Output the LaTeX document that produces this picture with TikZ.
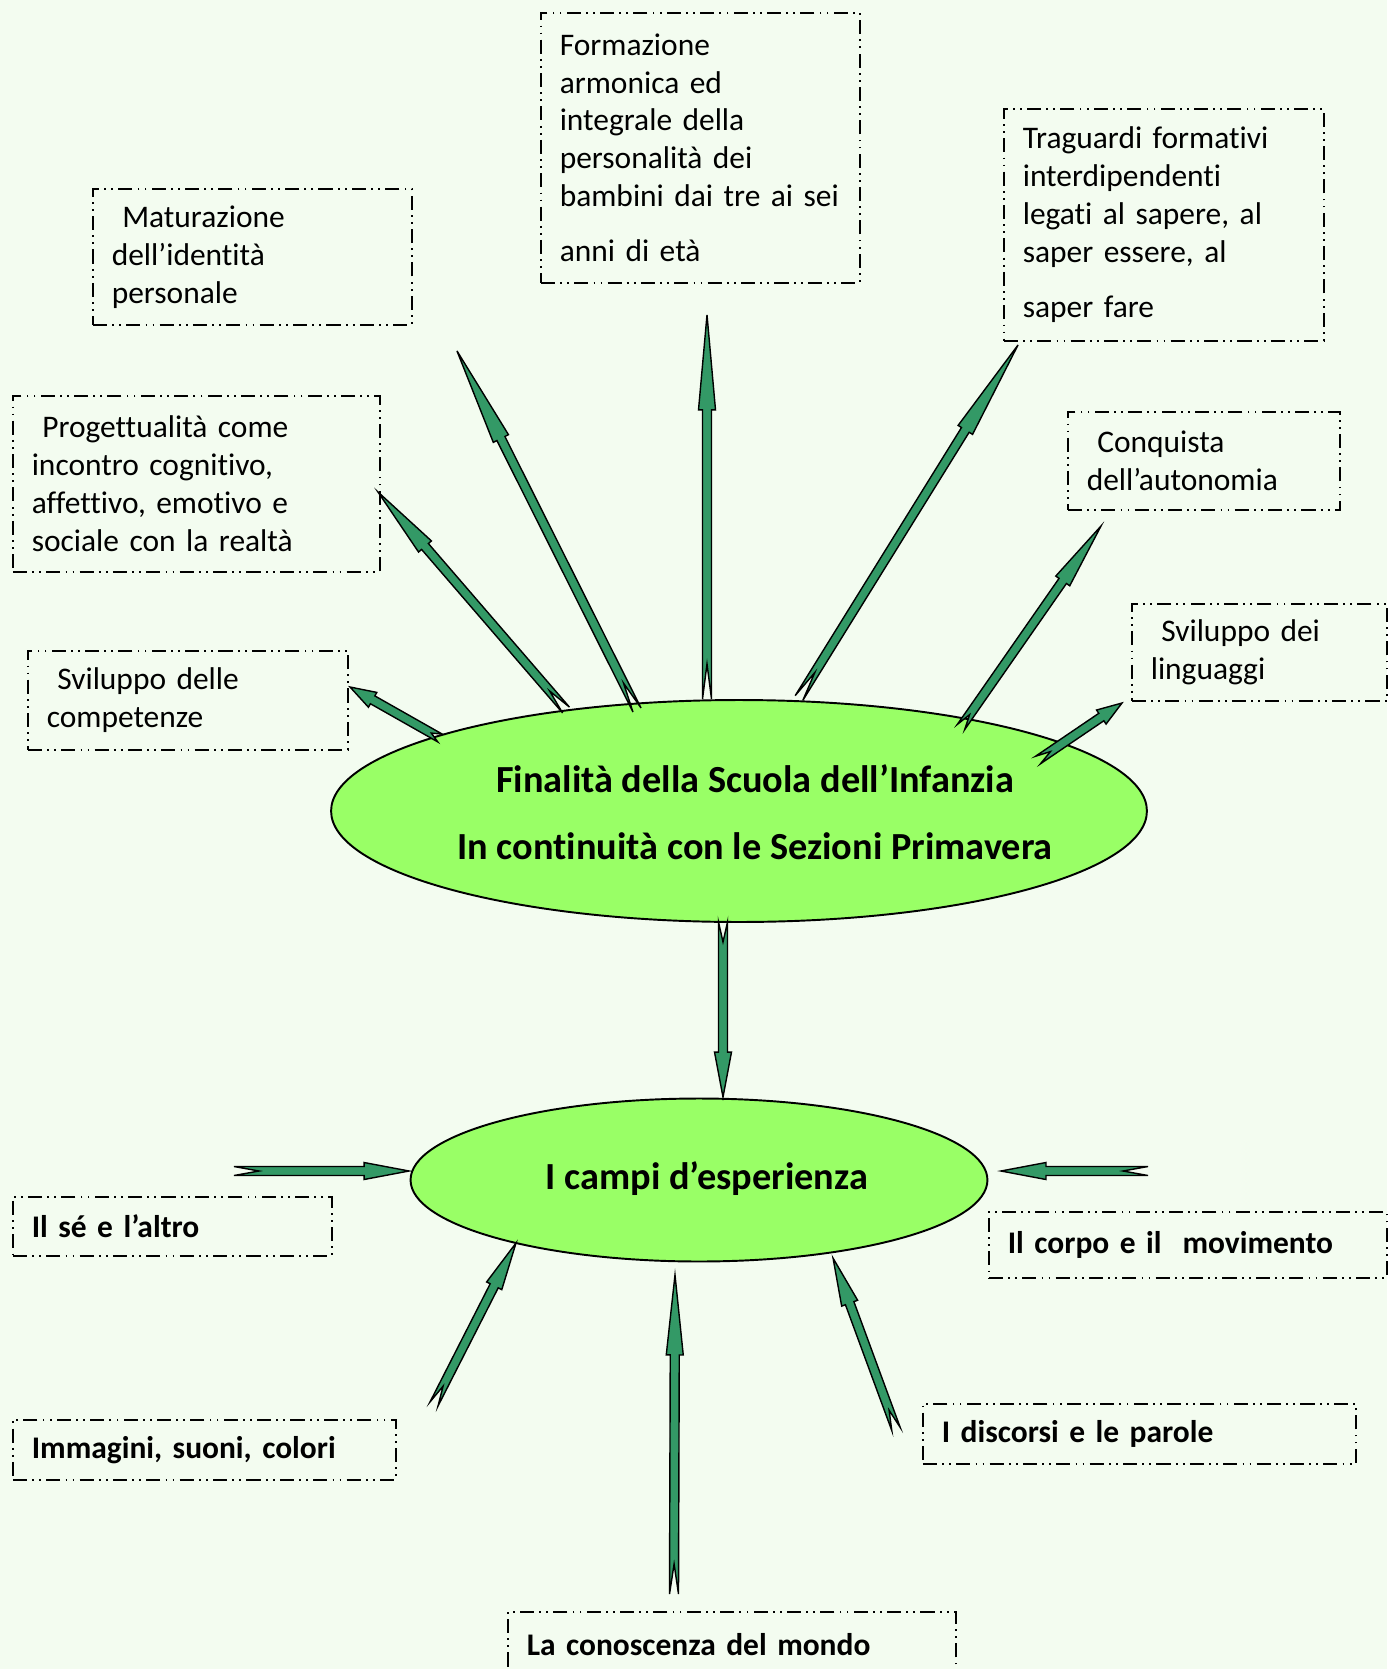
\documentclass[tikz,border=0pt]{standalone}
\usepackage{fontspec}
\setmainfont{Carlito}[Ligatures={TeX,NoCommon}]
\usepackage{tikz}
\usetikzlibrary{calc,shapes.geometric}
\definecolor{bgmint}{HTML}{F3FCF0}
\definecolor{goalgreen}{HTML}{99FF66}
\definecolor{arrowgreen}{HTML}{339966}
\newcommand\boxfont{\fontsize{17.9}{21.6}\selectfont}
\newcommand\goalfont{\fontsize{21.8}{38}\selectfont\bfseries}
\tikzset{
  goalbox/.style n args={3}{draw, dash pattern=on 8pt off 3pt on 1pt off 3pt on 1pt off 3pt,
    line width=0.9pt, anchor=north west, align=left, inner xsep=0.38cm, inner ysep=0pt,
    font=\boxfont, minimum width=#1cm, minimum height=#2cm, text width=#3cm},
  campo/.style={font=\boxfont\bfseries},
  goal/.style={ellipse, draw, fill=goalgreen, line width=1.1pt, inner sep=0pt},
  notched/.style={draw, fill=arrowgreen, line width=0.8pt, line join=miter}
}
% notched block arrow: tail, tip, head length, notch depth (lengths in px)
\newcommand\notcharrow[4]{%
  \path let \p1=(#1), \p2=(#2) in
    \pgfextra{\pgfmathsetmacro\arrang{atan2(\y2-\y1,\x2-\x1)}%
      \pgfmathsetmacro\arrlen{veclen(\x2-\x1,\y2-\y1)/0.569055}%
      \xdef\arrang{\arrang}\xdef\arrlen{\arrlen}};
  \begin{scope}[shift={(#1)}, rotate=\arrang]
    \draw[notched] (0,4.5) -- (\arrlen-#3,4.5) -- (\arrlen-#3,8.5) -- (\arrlen,0)
      -- (\arrlen-#3,-8.5) -- (\arrlen-#3,-4.5) -- (0,-4.5) -- (#4,0) -- cycle;
  \end{scope}}

\begin{document}
\begin{tikzpicture}[x=0.02cm, y=-0.02cm]
  \useasboundingbox (0,0) rectangle (1387,1669);
  \fill[bgmint] (0,0) rectangle (1387,1669);

  % the two ellipses
  \node[goal, minimum width=16.32cm, minimum height=4.44cm] (fin) at (739,811) {};
  \node[font=\goalfont, align=center] (fintxt) at (755,812)
    {Finalità della Scuola dell’Infanzia\\In continuità con le Sezioni Primavera};
  \node[goal, minimum width=11.54cm, minimum height=3.26cm] (campi) at (699,1180) {};
  \node[font=\goalfont] (campitxt) at (707,1179) {I campi d’esperienza};

  % goals
  \node[goalbox={6.38}{5.4}{5.62}] (form) at (540,12)
    {Formazione\\armonica ed\\integrale della\\personalità dei\\bambini dai tre ai sei\\[0.34cm]anni di età};
  \node[goalbox={6.4}{4.64}{5.64}] (trag) at (1003,108)
    {Traguardi formativi\\interdipendenti\\legati al sapere, al\\saper essere, al\\[0.34cm]saper fare};
  \node[goalbox={6.38}{2.72}{5.62}] (mat) at (92,188)
    {\ Maturazione\\dell’identità\\personale};
  \node[goalbox={7.34}{3.52}{6.58}] (prog) at (12,395)
    {\ Progettualità come\\incontro cognitivo,\\affettivo, emotivo e\\sociale con la realtà};
  \node[goalbox={5.44}{1.96}{4.68}] (conq) at (1067,411)
    {\ Conquista\\dell’autonomia};
  \node[goalbox={6.4}{1.98}{5.64}] (comp) at (27,650)
    {\ Sviluppo delle\\competenze};
  \node[goalbox={5.1}{1.94}{4.34}] (ling) at (1131,603)
    {\ Sviluppo dei\\linguaggi};

  % fields
  \node[goalbox={6.38}{1.18}{5.62}, campo] (se) at (12,1196) {Il sé e l’altro};
  \node[goalbox={7.96}{1.32}{7.2}, campo] (corpo) at (988,1211) {Il corpo e il~~movimento};
  \node[goalbox={7.66}{1.2}{6.9}, campo] (imm) at (12,1419) {Immagini, suoni, colori};
  \node[goalbox={8.66}{1.2}{7.9}, campo] (disc) at (922,1403) {I discorsi e le parole};
  \node[goalbox={8.96}{1.3}{8.2}, campo] (mondo) at (507,1611) {La conoscenza del mondo};

  % arrow ends
  \coordinate (comp-s) at (440,738);  \coordinate (comp-e) at (350,687);
  \coordinate (prog-s) at (566,710);  \coordinate (prog-e) at (378,492);
  \coordinate (mat-s) at (637,710);   \coordinate (mat-e) at (457,351);
  \coordinate (form-s) at (707,699);  \coordinate (form-e) at (707,315);
  \coordinate (trag-s) at (799,698);  \coordinate (trag-e) at (1018,345);
  \coordinate (conq-s) at (961,727);  \coordinate (conq-e) at (1101,526);
  \coordinate (ling-s) at (1038,760); \coordinate (ling-e) at (1122,703);
  \coordinate (fin-s) at (723,922);   \coordinate (fin-e) at (723,1097);
  \coordinate (se-s) at (234,1171);   \coordinate (se-e) at (409,1171);
  \coordinate (corpo-s) at (1148,1171); \coordinate (corpo-e) at (1001,1171);
  \coordinate (imm-s) at (434,1404);  \coordinate (imm-e) at (516,1243);
  \coordinate (mondo-s) at (674,1594); \coordinate (mondo-e) at (675,1275);
  \coordinate (disc-s) at (896,1429); \coordinate (disc-e) at (833,1258);

  \notcharrow{comp-s}{comp-e}{26}{10}
  \notcharrow{prog-s}{prog-e}{72}{25}
  \notcharrow{mat-s}{mat-e}{98}{30}
  \notcharrow{form-s}{form-e}{95}{35}
  \notcharrow{trag-s}{trag-e}{100}{30}
  \notcharrow{conq-s}{conq-e}{67}{15}
  \notcharrow{ling-s}{ling-e}{25}{15}
  \notcharrow{fin-s}{fin-e}{45}{20}
  \notcharrow{se-s}{se-e}{45}{25}
  \notcharrow{corpo-s}{corpo-e}{45}{25}
  \notcharrow{imm-s}{imm-e}{48}{20}
  \notcharrow{mondo-s}{mondo-e}{80}{30}
  \notcharrow{disc-s}{disc-e}{48}{20}
\end{tikzpicture}
\end{document}
